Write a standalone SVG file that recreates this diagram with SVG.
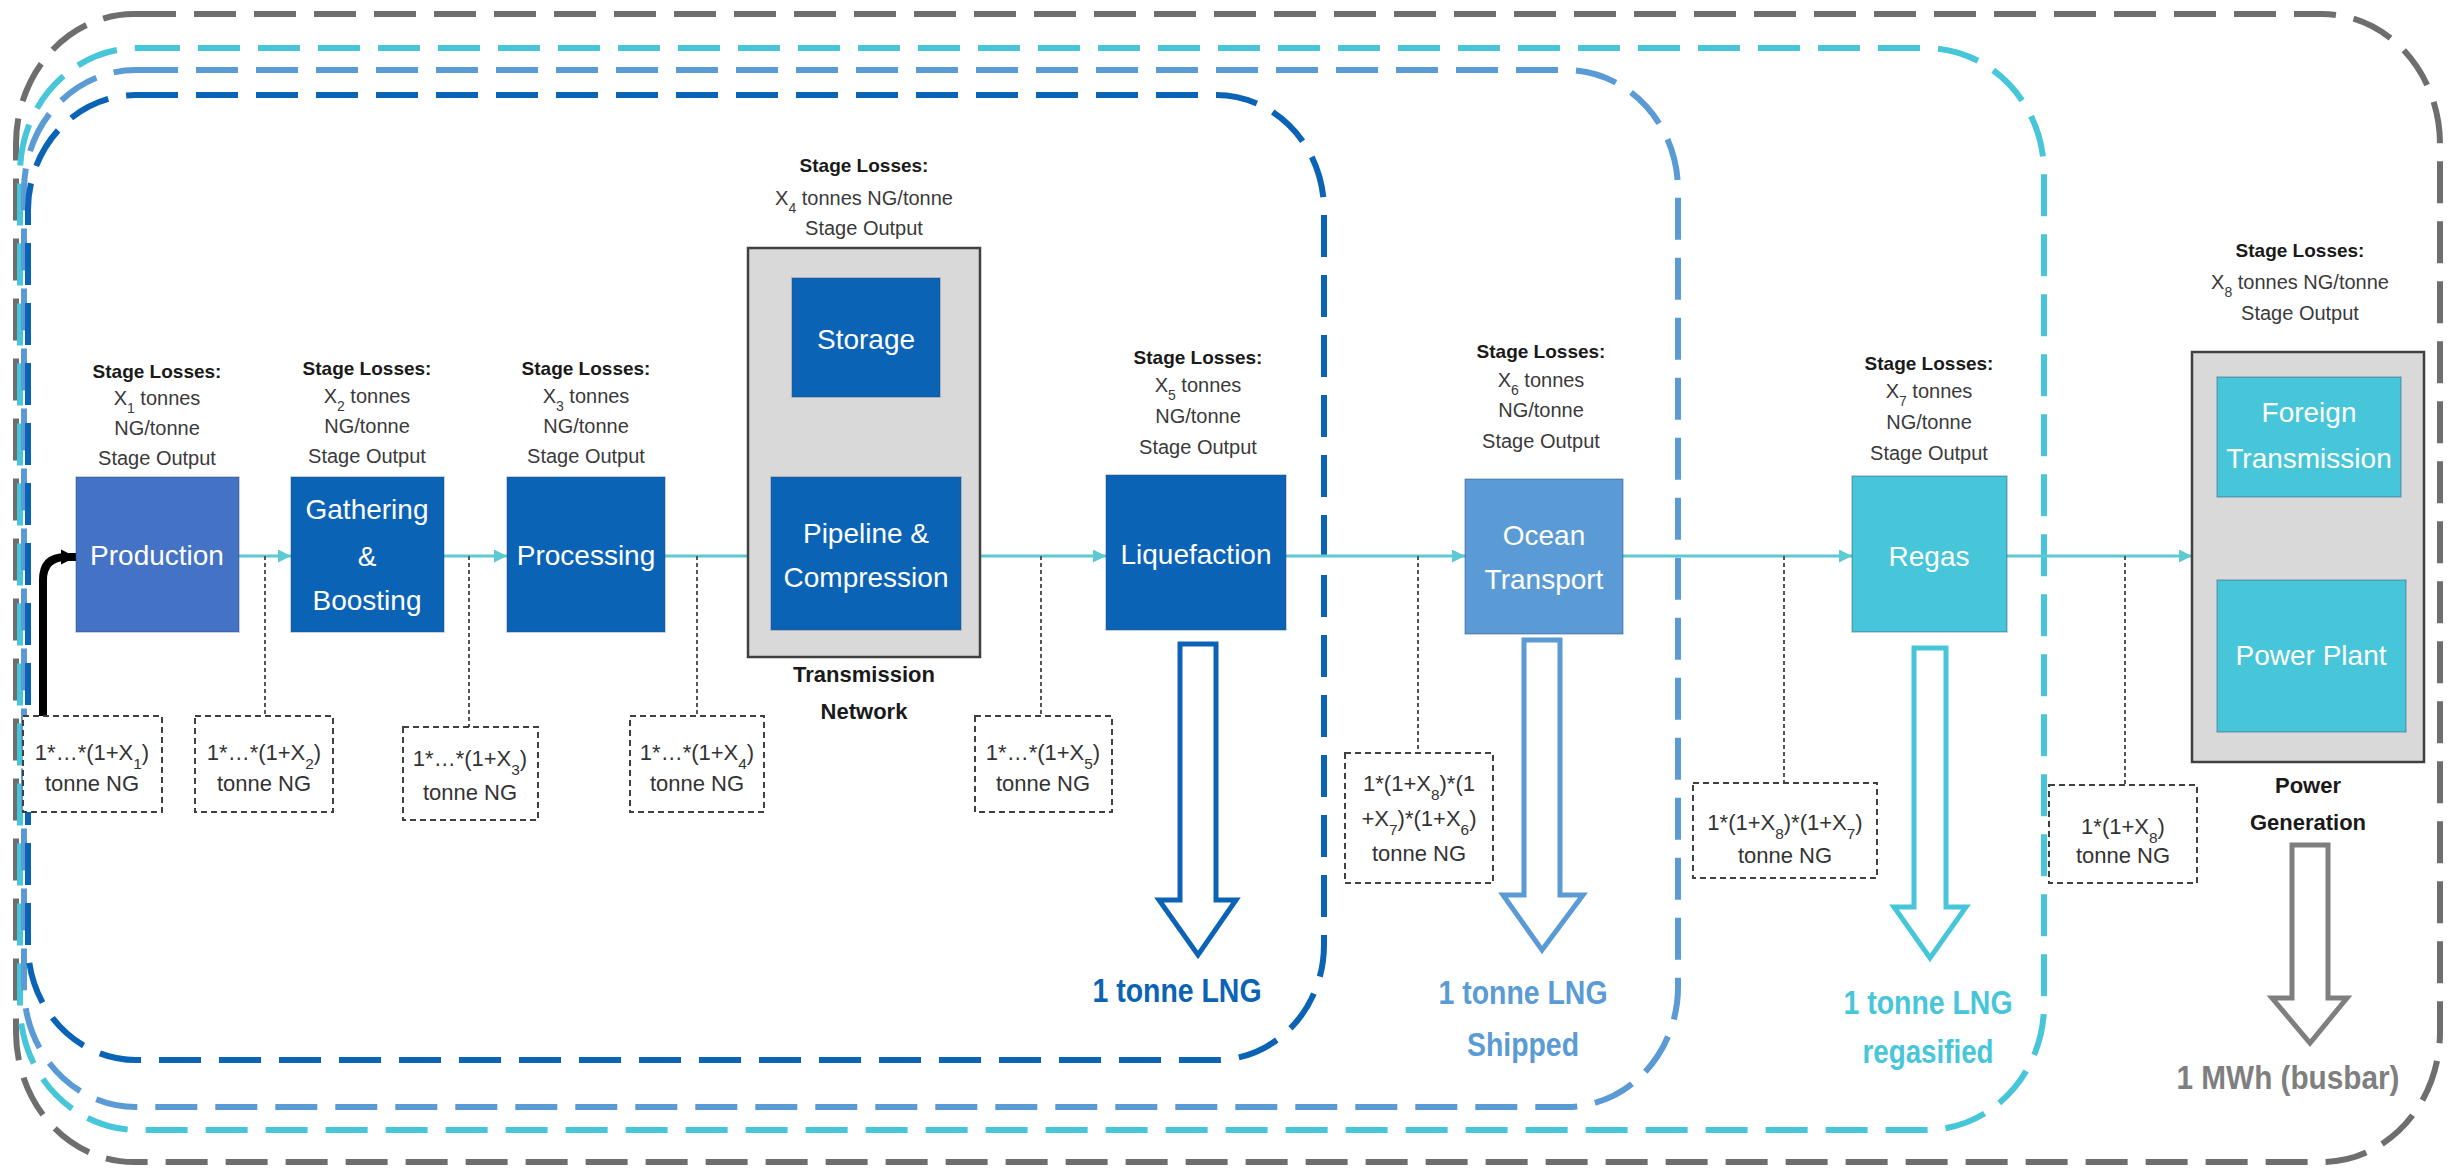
<svg xmlns="http://www.w3.org/2000/svg" width="2450" height="1168" viewBox="0 0 2450 1168">
<style>
.loop{fill:none;stroke-width:6;stroke-dasharray:42 18}
.node{stroke:#2b4a7a;stroke-opacity:.35;stroke-width:1.5}
.grp{fill:#D9D9D9;stroke:#404040;stroke-width:2.5}
.sl{font-family:'Liberation Sans',Arial,sans-serif;font-weight:bold;font-size:19px;fill:#1a1a1a;text-anchor:middle}
.st{font-family:'Liberation Sans',Arial,sans-serif;font-size:20px;fill:#3a3a3a;text-anchor:middle}
.nl{font-family:'Liberation Sans',Arial,sans-serif;font-size:28px;fill:#ffffff;text-anchor:middle}
.bx{font-family:'Liberation Sans',Arial,sans-serif;font-size:22px;fill:#333333;text-anchor:middle}
.gl{font-family:'Liberation Sans',Arial,sans-serif;font-weight:bold;font-size:22px;fill:#1a1a1a;text-anchor:middle}
.big{font-family:'Liberation Sans',Arial,sans-serif;font-weight:bold;font-size:33px;text-anchor:middle}
.sub{font-size:70%;baseline-shift:sub}
.dbox{fill:#ffffff;stroke:#404040;stroke-width:2;stroke-dasharray:6 4}
.drop{stroke:#555555;stroke-width:2;stroke-dasharray:4 3;fill:none}
.flow{stroke:#5CC9D3;stroke-width:3;fill:none;marker-end:url(#ac)}
.link{stroke:#4472C4;stroke-width:4;stroke-dasharray:10 6;fill:none}
.hollow{fill:#ffffff;stroke-width:5;stroke-linejoin:miter}
</style>
<defs>
<marker id="ac" viewBox="0 0 10 10" refX="10" refY="5" markerWidth="14" markerHeight="13" markerUnits="userSpaceOnUse" orient="auto"><path d="M0,0 L10,5 L0,10 z" fill="#5CC9D3"/></marker>
<marker id="ab" viewBox="0 0 10 10" refX="10" refY="5" markerWidth="15" markerHeight="19" markerUnits="userSpaceOnUse" orient="auto"><path d="M0,0 L10,5 L0,10 z" fill="#000000"/></marker>
</defs>
<rect width="2450" height="1168" fill="#ffffff"/>

<g id="loops">
<rect class="loop" x="16" y="14" width="2424" height="1148" rx="118" ry="130" stroke="#6E6E6E"/>
<rect class="loop" x="20" y="48" width="2024" height="1082" rx="118" ry="125" stroke="#46C6D8"/>
<rect class="loop" x="24" y="70" width="1654" height="1037" rx="112" ry="120" stroke="#5B9BD5"/>
<rect class="loop" x="28" y="95" width="1296" height="965" rx="108" ry="115" stroke="#0B63B6"/>
</g>

<g id="connectors">
<line class="flow" x1="239" y1="556" x2="291" y2="556"/>
<line class="flow" x1="444" y1="556" x2="507" y2="556"/>
<line class="flow" x1="665" y1="556" x2="771" y2="556"/>
<line class="flow" x1="961" y1="556" x2="1106" y2="556"/>
<line class="flow" x1="1286" y1="556" x2="1465" y2="556"/>
<line class="flow" x1="1623" y1="556" x2="1852" y2="556"/>
<line class="flow" x1="2007" y1="556" x2="2192" y2="556"/>
<line class="drop" x1="265" y1="556" x2="265" y2="716"/>
<line class="drop" x1="469" y1="556" x2="469" y2="727"/>
<line class="drop" x1="697" y1="556" x2="697" y2="716"/>
<line class="drop" x1="1041" y1="556" x2="1041" y2="716"/>
<line class="drop" x1="1418" y1="556" x2="1418" y2="753"/>
<line class="drop" x1="1784" y1="556" x2="1784" y2="783"/>
<line class="drop" x1="2125" y1="556" x2="2125" y2="785"/>
<line class="link" x1="866" y1="397" x2="866" y2="477"/>
<line class="link" x1="2310" y1="497" x2="2310" y2="580"/>
<path d="M43,717 V580 Q43,557 66,557 H76" fill="none" stroke="#000000" stroke-width="8" marker-end="url(#ab)"/>
</g>

<g id="production">
<text class="sl" x="157" y="378">Stage Losses:</text>
<text class="st" x="157" y="405">X<tspan class="sub">1</tspan> tonnes</text>
<text class="st" x="157" y="435">NG/tonne</text>
<text class="st" x="157" y="465">Stage Output</text>
<rect class="node" x="76" y="477" width="163" height="155" fill="#4472C4"/>
<text class="nl" x="157" y="565">Production</text>
</g>

<g id="gathering">
<text class="sl" x="367" y="375">Stage Losses:</text>
<text class="st" x="367" y="403">X<tspan class="sub">2</tspan> tonnes</text>
<text class="st" x="367" y="433">NG/tonne</text>
<text class="st" x="367" y="463">Stage Output</text>
<rect class="node" x="291" y="477" width="153" height="155" fill="#0B63B6"/>
<text class="nl" x="367" y="519">Gathering</text>
<text class="nl" x="367" y="566">&amp;</text>
<text class="nl" x="367" y="610">Boosting</text>
</g>

<g id="processing">
<text class="sl" x="586" y="375">Stage Losses:</text>
<text class="st" x="586" y="403">X<tspan class="sub">3</tspan> tonnes</text>
<text class="st" x="586" y="433">NG/tonne</text>
<text class="st" x="586" y="463">Stage Output</text>
<rect class="node" x="507" y="477" width="158" height="155" fill="#0B63B6"/>
<text class="nl" x="586" y="565">Processing</text>
</g>

<g id="transmission-network">
<text class="sl" x="864" y="172">Stage Losses:</text>
<text class="st" x="864" y="205">X<tspan class="sub">4</tspan> tonnes NG/tonne</text>
<text class="st" x="864" y="235">Stage Output</text>
<rect class="grp" x="748" y="248" width="232" height="409"/>
<text class="gl" x="864" y="682">Transmission</text>
<text class="gl" x="864" y="719">Network</text>
</g>

<g id="storage">
<rect class="node" x="792" y="278" width="148" height="119" fill="#0B63B6"/>
<text class="nl" x="866" y="349">Storage</text>
</g>

<g id="pipeline">
<rect class="node" x="771" y="477" width="190" height="153" fill="#0B63B6"/>
<text class="nl" x="866" y="543">Pipeline &amp;</text>
<text class="nl" x="866" y="587">Compression</text>
</g>

<g id="liquefaction">
<text class="sl" x="1198" y="364">Stage Losses:</text>
<text class="st" x="1198" y="392">X<tspan class="sub">5</tspan> tonnes</text>
<text class="st" x="1198" y="423">NG/tonne</text>
<text class="st" x="1198" y="454">Stage Output</text>
<rect class="node" x="1106" y="475" width="180" height="155" fill="#0B63B6"/>
<text class="nl" x="1196" y="564">Liquefaction</text>
<path class="hollow" stroke="#0B63B6" d="M1180,644 H1216 V900 H1236 L1198,955 L1159,900 H1180 Z"/>
<text class="big" x="1177" y="1002" fill="#0B63B6" textLength="169" lengthAdjust="spacingAndGlyphs">1 tonne LNG</text>
</g>

<g id="ocean-transport">
<text class="sl" x="1541" y="358">Stage Losses:</text>
<text class="st" x="1541" y="387">X<tspan class="sub">6</tspan> tonnes</text>
<text class="st" x="1541" y="417">NG/tonne</text>
<text class="st" x="1541" y="448">Stage Output</text>
<rect class="node" x="1465" y="479" width="158" height="155" fill="#5B9BD5"/>
<text class="nl" x="1544" y="545">Ocean</text>
<text class="nl" x="1544" y="589">Transport</text>
<path class="hollow" stroke="#5B9BD5" d="M1524,640 H1560 V895 H1583 L1542,950 L1503,895 H1524 Z"/>
<text class="big" x="1523" y="1004" fill="#5B9BD5" textLength="169" lengthAdjust="spacingAndGlyphs">1 tonne LNG</text>
<text class="big" x="1523" y="1056" fill="#5B9BD5" textLength="112" lengthAdjust="spacingAndGlyphs">Shipped</text>
</g>

<g id="regas">
<text class="sl" x="1929" y="370">Stage Losses:</text>
<text class="st" x="1929" y="398">X<tspan class="sub">7</tspan> tonnes</text>
<text class="st" x="1929" y="429">NG/tonne</text>
<text class="st" x="1929" y="460">Stage Output</text>
<rect class="node" x="1852" y="476" width="155" height="156" fill="#46C6D8"/>
<text class="nl" x="1929" y="566">Regas</text>
<path class="hollow" stroke="#46C6D8" d="M1914,648 H1946 V907 H1966 L1930,958 L1894,907 H1914 Z"/>
<text class="big" x="1928" y="1014" fill="#46C6D8" textLength="169" lengthAdjust="spacingAndGlyphs">1 tonne LNG</text>
<text class="big" x="1928" y="1063" fill="#46C6D8" textLength="131" lengthAdjust="spacingAndGlyphs">regasified</text>
</g>

<g id="power-generation">
<text class="sl" x="2300" y="257">Stage Losses:</text>
<text class="st" x="2300" y="289">X<tspan class="sub">8</tspan> tonnes NG/tonne</text>
<text class="st" x="2300" y="320">Stage Output</text>
<rect class="grp" x="2192" y="352" width="232" height="410"/>
<text class="gl" x="2308" y="793">Power</text>
<text class="gl" x="2308" y="830">Generation</text>
<path class="hollow" stroke="#7F7F7F" d="M2292,845 H2328 V998 H2347 L2310,1043 L2272,998 H2292 Z"/>
<text class="big" x="2288" y="1089" fill="#7F7F7F" textLength="223" lengthAdjust="spacingAndGlyphs">1 MWh (busbar)</text>
</g>

<g id="foreign-transmission">
<rect class="node" x="2217" y="377" width="184" height="120" fill="#46C6D8"/>
<text class="nl" x="2309" y="422">Foreign</text>
<text class="nl" x="2309" y="468">Transmission</text>
</g>

<g id="power-plant">
<rect class="node" x="2217" y="580" width="189" height="152" fill="#46C6D8"/>
<text class="nl" x="2311" y="665">Power Plant</text>
</g>

<g id="box1">
<rect class="dbox" x="23" y="716" width="139" height="96"/>
<text class="bx" x="92" y="760">1*…*(1+X<tspan class="sub">1</tspan>)</text>
<text class="bx" x="92" y="791">tonne NG</text>
</g>
<g id="box2">
<rect class="dbox" x="195" y="716" width="138" height="96"/>
<text class="bx" x="264" y="760">1*…*(1+X<tspan class="sub">2</tspan>)</text>
<text class="bx" x="264" y="791">tonne NG</text>
</g>
<g id="box3">
<rect class="dbox" x="403" y="727" width="135" height="93"/>
<text class="bx" x="470" y="766">1*…*(1+X<tspan class="sub">3</tspan>)</text>
<text class="bx" x="470" y="800">tonne NG</text>
</g>
<g id="box4">
<rect class="dbox" x="630" y="716" width="134" height="96"/>
<text class="bx" x="697" y="760">1*…*(1+X<tspan class="sub">4</tspan>)</text>
<text class="bx" x="697" y="791">tonne NG</text>
</g>
<g id="box5">
<rect class="dbox" x="975" y="716" width="137" height="96"/>
<text class="bx" x="1043" y="760">1*…*(1+X<tspan class="sub">5</tspan>)</text>
<text class="bx" x="1043" y="791">tonne NG</text>
</g>
<g id="box6">
<rect class="dbox" x="1345" y="753" width="148" height="130"/>
<text class="bx" x="1419" y="791">1*(1+X<tspan class="sub">8</tspan>)*(1</text>
<text class="bx" x="1419" y="826">+X<tspan class="sub">7</tspan>)*(1+X<tspan class="sub">6</tspan>)</text>
<text class="bx" x="1419" y="861">tonne NG</text>
</g>
<g id="box7">
<rect class="dbox" x="1693" y="783" width="184" height="95"/>
<text class="bx" x="1785" y="830">1*(1+X<tspan class="sub">8</tspan>)*(1+X<tspan class="sub">7</tspan>)</text>
<text class="bx" x="1785" y="863">tonne NG</text>
</g>
<g id="box8">
<rect class="dbox" x="2049" y="785" width="148" height="98"/>
<text class="bx" x="2123" y="834">1*(1+X<tspan class="sub">8</tspan>)</text>
<text class="bx" x="2123" y="863">tonne NG</text>
</g>
</svg>
